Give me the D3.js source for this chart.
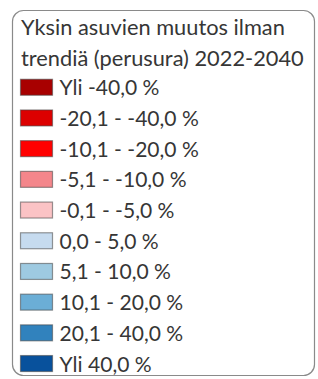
<!DOCTYPE html>
<html>
<head>
<meta charset="utf-8">
<script src="https://cdn.jsdelivr.net/npm/d3@7.9.0/dist/d3.min.js"></script>
<style>
  html, body { margin: 0; padding: 0; background: #fff; }
  svg { display: block; }
  text { font-family: Lato, "Open Sans", sans-serif; fill: #363636; }
</style>
</head>
<body>
<div id="chart"></div>
<script>
// Legend content
const titleLines = ['Yksin asuvien muutos ilman', 'trendiä (perusura) 2022-2040'];
const classLabels = [
  'Yli -40,0 %',
  '-20,1 - -40,0 %',
  '-10,1 - -20,0 %',
  '-5,1 - -10,0 %',
  '-0,1 - -5,0 %',
  '0,0 - 5,0 %',
  '5,1 - 10,0 %',
  '10,1 - 20,0 %',
  '20,1 - 40,0 %',
  'Yli 40,0 %'
];
const classColors = [
  '#a80000', '#dc0000', '#ff0000', '#f4868b', '#fbc3c5',
  '#c6dbef', '#9ecae1', '#6baed6', '#3182bd', '#08519c'
];

const width = 318, height = 379;

const svg = d3.select('#chart')
  .append('svg')
  .attr('width', width)
  .attr('height', height);

// frame
svg.append('rect')
  .attr('x', 12.5)
  .attr('y', 10.5)
  .attr('width', 302)
  .attr('height', 365)
  .attr('rx', 11)
  .attr('fill', '#fff')
  .attr('stroke', '#8a8a8a')
  .attr('stroke-width', 1.2);

// rows: two title lines followed by the classes
const rows = [...titleLines.map((t, i) => 't' + i), ...classLabels];
const step = 30.8;
const y = d3.scaleBand()
  .domain(rows)
  .range([9.4, 9.4 + rows.length * step])
  .paddingInner(0.48)
  .paddingOuter(0.26);

// title
const title = svg.append('g').attr('class', 'title');
title.selectAll('text')
  .data(titleLines)
  .join('text')
  .attr('x', 21)
  .attr('y', (d, i) => y('t' + i) + y.bandwidth() + 1.5)
  .attr('font-size', 19)
  .text(d => d);

// fit font size to the reference width of the second title line
const probe = title.selectAll('text').nodes()[1];
const fs = 19 * 283 / probe.getComputedTextLength();
title.selectAll('text').attr('font-size', fs);

const items = svg.append('g')
  .selectAll('g')
  .data(classLabels)
  .join('g')
  .attr('transform', d => `translate(0, ${y(d)})`);

items.append('rect')
  .attr('x', 20.5)
  .attr('y', 0.5)
  .attr('width', 32)
  .attr('height', y.bandwidth())
  .attr('fill', (d, i) => classColors[i])
  .attr('stroke', '#444')
  .attr('stroke-opacity', 0.55)
  .attr('stroke-width', 1.2);

items.append('text')
  .attr('x', 59.5)
  .attr('y', y.bandwidth() + 0.5)
  .attr('font-size', fs * 0.965)
  .text(d => d);
</script>
</body>
</html>
